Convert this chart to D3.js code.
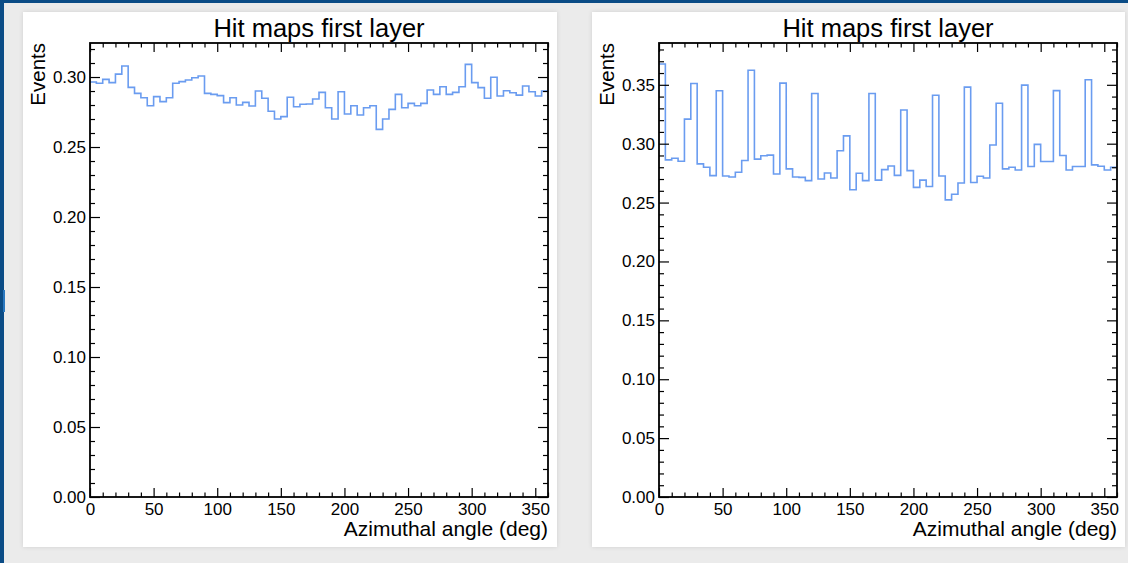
<!DOCTYPE html>
<html>
<head>
<meta charset="utf-8">
<script src="https://cdn.jsdelivr.net/npm/d3@7"></script>
<style>
  html, body { margin: 0; padding: 0; background: #ebebeb; }
  svg { display: block; }
  text { font-family: "Liberation Sans", Arial, Helvetica, sans-serif; fill: #000; }
</style>
</head>
<body>
<svg id="chart"></svg>
<script>
// Bin edges (deg), 72 bins of 5 deg
const binEdges = d3.range(0, 365, 5);

// Left pad: hit fractions per azimuthal bin
const leftValues = [
  0.2964, 0.2955, 0.2983, 0.2960, 0.3021, 0.3079, 0.2926, 0.2883, 0.2852, 0.2795, 0.2860, 0.2824,
  0.2852, 0.2955, 0.2967, 0.2979, 0.2995, 0.3007, 0.2883, 0.2876, 0.2867, 0.2817, 0.2852, 0.2800,
  0.2819, 0.2793, 0.2900, 0.2848, 0.2755, 0.2700, 0.2717, 0.2855, 0.2788, 0.2805, 0.2807, 0.2843,
  0.2890, 0.2781, 0.2700, 0.2895, 0.2736, 0.2795, 0.2729, 0.2781, 0.2795, 0.2626, 0.2700, 0.2769,
  0.2876, 0.2781, 0.2812, 0.2795, 0.2812, 0.2907, 0.2876, 0.2931, 0.2876, 0.2890, 0.2931, 0.3090,
  0.2960, 0.2924, 0.2848, 0.2998, 0.2864, 0.2902, 0.2888, 0.2871, 0.2936, 0.2895, 0.2864, 0.2900
];

// Right pad
const rightValues = [
  0.3677, 0.2863, 0.2877, 0.2851, 0.3209, 0.3511, 0.2829, 0.2800, 0.2729, 0.3449, 0.2726, 0.2717,
  0.2757, 0.2857, 0.3623, 0.2869, 0.2897, 0.2903, 0.2743, 0.3514, 0.2786, 0.2717, 0.2714, 0.2686,
  0.3426, 0.2700, 0.2751, 0.2709, 0.2940, 0.3066, 0.2609, 0.2749, 0.2686, 0.3426, 0.2691, 0.2780,
  0.2811, 0.2731, 0.3286, 0.2771, 0.2629, 0.2691, 0.2637, 0.3411, 0.2726, 0.2523, 0.2571, 0.2666,
  0.3480, 0.2671, 0.2723, 0.2709, 0.2989, 0.3343, 0.2786, 0.2800, 0.2777, 0.3497, 0.2806, 0.2994,
  0.2849, 0.2849, 0.3451, 0.2900, 0.2777, 0.2806, 0.2806, 0.3543, 0.2820, 0.2809, 0.2777, 0.2800
];

const xMajorTicks = [0, 50, 100, 150, 200, 250, 300, 350];
const leftYTicks = [0, 0.05, 0.10, 0.15, 0.20, 0.25, 0.30];
const rightYTicks = [0, 0.05, 0.10, 0.15, 0.20, 0.25, 0.30, 0.35];

const titleText = "Hit maps first layer";
const xLabel = "Azimuthal angle (deg)";
const yLabel = "Events";

const width = 1128, height = 563;
const lineColor = "#6a9cf0";

const svg = d3.select("#chart")
    .attr("width", width)
    .attr("height", height);

// Page background and blue window edges
svg.append("rect").attr("width", width).attr("height", height).attr("fill", "#ebebeb");
svg.append("rect").attr("x", 0).attr("y", 0).attr("width", width).attr("height", 3).attr("fill", "#0b4c86");
svg.append("rect").attr("x", 0).attr("y", 0).attr("width", 4).attr("height", height).attr("fill", "#0b4c86");
svg.append("rect").attr("x", 3).attr("y", 290).attr("width", 2).attr("height", 22).attr("fill", "#2a78c0");

// soft shadow for the pads
const defs = svg.append("defs");
const f = defs.append("filter").attr("id", "shadow")
    .attr("x", -0.05).attr("y", -0.05).attr("width", 1.1).attr("height", 1.1);
f.append("feDropShadow").attr("dx", 0).attr("dy", 0).attr("stdDeviation", 2)
    .attr("flood-color", "#000").attr("flood-opacity", 0.12);

function drawPanel(opts) {
    const g = svg.append("g");

    // pad
    g.append("rect")
     .attr("x", opts.padX).attr("y", 12)
     .attr("width", opts.padW).attr("height", 535)
     .attr("fill", "#fff")
     .attr("filter", "url(#shadow)");

    const left = opts.frameX, right = opts.frameX + 458;
    const top = 43, bottom = 497;

    const x = d3.scaleLinear().domain([0, 360]).range([left, right]);
    const y = d3.scaleLinear().domain([0, opts.yMax]).range([bottom, top]);

    const xMinor = d3.range(0, 361, 10).filter(d => d % 50 !== 0);
    const yMinor = d3.range(0, opts.yMax, 0.01).filter(d => Math.abs(Math.round(d * 100) % 5) !== 0);

    // histogram outline
    const pts = binEdges.map((e, i) => [e, i < opts.values.length ? opts.values[i] : opts.values[opts.values.length - 1]]);
    const line = d3.line()
        .x(d => x(d[0]))
        .y(d => y(d[1]))
        .curve(d3.curveStepAfter);
    g.append("path")
     .datum(pts)
     .attr("d", line)
     .attr("fill", "none")
     .attr("stroke", lineColor)
     .attr("stroke-width", 1.6);

    // axes: major with labels, minor without
    function styleAxis(sel) {
        sel.select(".domain").remove();
        sel.selectAll(".tick line").attr("stroke", "#000").attr("stroke-width", 1.2);
        sel.selectAll("text").attr("font-size", 17).style("font-family", "'Liberation Sans', Arial, sans-serif");
    }

    g.append("g").attr("transform", `translate(0,${bottom})`)
     .call(d3.axisBottom(x).tickValues(xMajorTicks).tickSize(-9).tickPadding(6).tickFormat(d3.format("d")))
     .call(styleAxis);
    g.append("g").attr("transform", `translate(0,${bottom})`)
     .call(d3.axisBottom(x).tickValues(xMinor).tickSize(-4.5).tickFormat(""))
     .call(styleAxis);
    g.append("g").attr("transform", `translate(0,${top})`)
     .call(d3.axisTop(x).tickValues(xMajorTicks).tickSize(-9).tickFormat(""))
     .call(styleAxis);
    g.append("g").attr("transform", `translate(0,${top})`)
     .call(d3.axisTop(x).tickValues(xMinor).tickSize(-4.5).tickFormat(""))
     .call(styleAxis);

    g.append("g").attr("transform", `translate(${left},0)`)
     .call(d3.axisLeft(y).tickValues(opts.yTicks).tickSize(-10).tickPadding(4).tickFormat(d3.format(".2f")))
     .call(styleAxis);
    g.append("g").attr("transform", `translate(${left},0)`)
     .call(d3.axisLeft(y).tickValues(yMinor).tickSize(-5).tickFormat(""))
     .call(styleAxis);
    g.append("g").attr("transform", `translate(${right},0)`)
     .call(d3.axisRight(y).tickValues(opts.yTicks).tickSize(-10).tickFormat(""))
     .call(styleAxis);
    g.append("g").attr("transform", `translate(${right},0)`)
     .call(d3.axisRight(y).tickValues(yMinor).tickSize(-5).tickFormat(""))
     .call(styleAxis);

    // frame
    g.append("rect")
     .attr("x", left).attr("y", top)
     .attr("width", right - left).attr("height", bottom - top)
     .attr("fill", "none")
     .attr("stroke", "#000")
     .attr("stroke-width", 1.8);

    // title and axis labels
    g.append("text")
     .attr("x", (left + right) / 2).attr("y", 37)
     .attr("text-anchor", "middle")
     .attr("font-size", 25.5)
     .text(titleText);

    g.append("text")
     .attr("x", right).attr("y", 536)
     .attr("text-anchor", "end")
     .attr("font-size", 21)
     .text(xLabel);

    g.append("text")
     .attr("transform", `translate(${left - 45},${top}) rotate(-90)`)
     .attr("text-anchor", "end")
     .attr("font-size", 20.5)
     .text(yLabel);
}

drawPanel({ padX: 23, padW: 534, frameX: 90, yMax: 0.3243, yTicks: leftYTicks, values: leftValues });
drawPanel({ padX: 592, padW: 533, frameX: 659, yMax: 0.3855, yTicks: rightYTicks, values: rightValues });
</script>
</body>
</html>
